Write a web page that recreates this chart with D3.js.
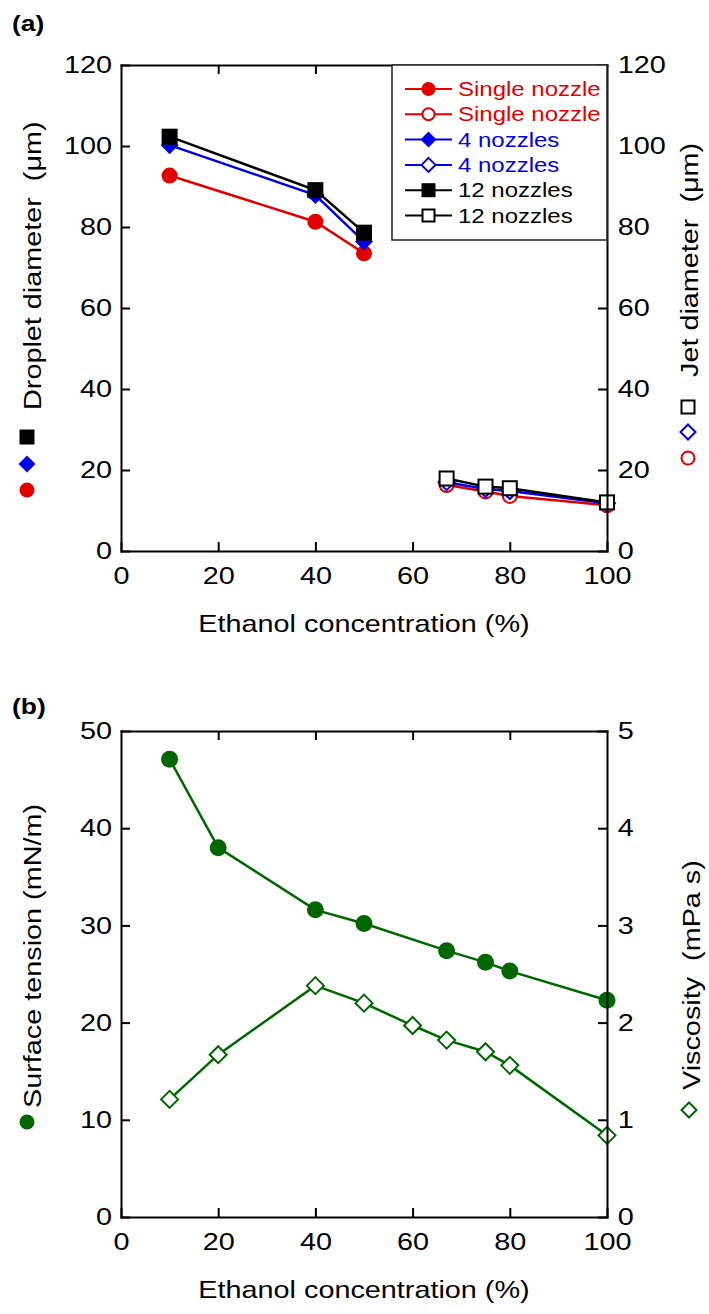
<!DOCTYPE html>
<html><head><meta charset="utf-8">
<script src="https://cdn.jsdelivr.net/npm/d3@7"></script>
<style>body{margin:0;background:#fff}svg{display:block}text{white-space:pre}</style>
</head><body>
<script>
// ---------- DATA ----------
const xTicks = [0, 20, 40, 60, 80, 100];
// Panel (a): droplet diameter (filled) at low ethanol
const dropX = [10, 40, 50];
const dropSingle = [92.7, 81.3, 73.5];
const drop4 = [100.2, 87.9, 76.4];
const drop12 = [102.3, 89.1, 78.6];
// Panel (a): jet diameter (open) at high ethanol
const jetX = [67, 75, 80, 100];
const jetSingle = [16.3, 14.7, 13.6, 11.3];
const jet4 = [17.0, 15.3, 14.8, 11.8];
const jet12 = [17.9, 15.9, 15.5, 12.0];
const aYTicks = [0, 20, 40, 60, 80, 100, 120];
const legendLabels = ["Single nozzle", "Single nozzle", "4 nozzles", "4 nozzles", "12 nozzles", "12 nozzles"];
// Panel (b)
const stX = [10, 20, 40, 50, 67, 75, 80, 100];
const surfaceTension = [47.1, 38.0, 31.6, 30.2, 27.4, 26.2, 25.3, 22.3];
const viscX = [10, 20, 40, 50, 60, 67, 75, 80, 100];
const viscosity = [1.21, 1.67, 2.38, 2.20, 1.97, 1.82, 1.70, 1.56, 0.84];
const bYTicksL = [0, 10, 20, 30, 40, 50];
const bYTicksR = [0, 1, 2, 3, 4, 5];

// ---------- STYLE ----------
const RED = "#e00000", BLUE = "#0000e6", BLACK = "#000", GREEN = "#006600";
const FONT = "'Liberation Sans', Arial, sans-serif";
const SX = 1.2;
const W = 709, H = 1314;
const L = 121, R = 607;

const svg = d3.select("body").append("svg").attr("width", W).attr("height", H)
  .style("font-family", FONT);

function txt(x, y, s, o = {}) {
  const t = svg.append("text")
    .attr("transform", `translate(${x},${y}) rotate(${o.rot || 0}) scale(${SX},1)`)
    .attr("font-size", o.size || 24)
    .attr("text-anchor", o.anchor || "start")
    .attr("fill", o.fill || "#000")
    .attr("font-weight", o.weight || "normal")
    .text(s);
  return t;
}

function marker(g, shape, filled, color, cx, cy, s) {
  const fill = filled ? color : "#fff";
  const sw = 2;
  if (shape === "circle") {
    g.append("circle").attr("cx", cx).attr("cy", cy).attr("r", filled ? s / 2 : s / 2 - 1)
      .attr("fill", fill).attr("stroke", color).attr("stroke-width", filled ? 0 : sw);
  } else if (shape === "square") {
    const a = filled ? s : s - 2;
    g.append("rect").attr("x", cx - a / 2).attr("y", cy - a / 2).attr("width", a).attr("height", a)
      .attr("fill", fill).attr("stroke", color).attr("stroke-width", filled ? 0 : sw);
  } else {
    const h = filled ? s / 2 + 1 : s / 2;
    g.append("path").attr("d", `M${cx},${cy - h}L${cx + h},${cy}L${cx},${cy + h}L${cx - h},${cy}Z`)
      .attr("fill", fill).attr("stroke", color).attr("stroke-width", filled ? 0 : sw);
  }
}

function frame(x, yL, yR, top, bottom, ticksL, ticksR) {
  const g = svg.append("g");
  const style = sel => {
    sel.selectAll("path.domain").attr("stroke", "#000").attr("stroke-width", 2);
    sel.selectAll(".tick line").attr("stroke", "#000").attr("stroke-width", 2);
    sel.selectAll(".tick text").attr("font-size", 24).attr("font-family", FONT)
      .attr("fill", "#000").attr("transform", `scale(${SX},1)`);
  };
  const fmt = d3.format("d");
  g.append("g").attr("transform", `translate(0,${bottom})`)
    .call(d3.axisBottom(x).tickValues(xTicks).tickFormat(fmt).tickSizeInner(-9).tickSizeOuter(0).tickPadding(16)).call(style);
  g.append("g").attr("transform", `translate(0,${top})`)
    .call(d3.axisTop(x).tickValues(xTicks.slice(1, -1)).tickSizeInner(-9).tickSizeOuter(0).tickFormat("")).call(style);
  g.append("g").attr("transform", `translate(${L},0)`)
    .call(d3.axisLeft(yL).tickValues(ticksL).tickFormat(fmt).tickSizeInner(-9).tickSizeOuter(0).tickPadding(7.5)).call(style);
  g.append("g").attr("transform", `translate(${R},0)`)
    .call(d3.axisRight(yR).tickValues(ticksR).tickFormat(fmt).tickSizeInner(-9).tickSizeOuter(0).tickPadding(9)).call(style);
  g.selectAll(".domain").attr("stroke-linecap", "square");
  return g;
}

function series(xs, ys, x, y, color, shape, filled, size) {
  const g = svg.append("g");
  const pts = xs.map((v, i) => [x(v), y(ys[i])]);
  g.append("path").attr("d", d3.line()(pts)).attr("fill", "none")
    .attr("stroke", color).attr("stroke-width", 2.5);
  pts.forEach(p => marker(g, shape, filled, color, p[0], p[1], size));
}

// ---------- PANEL (a) ----------
const aTop = 65, aBot = 551;
const xa = d3.scaleLinear().domain([0, 100]).range([L, R]);
const ya = d3.scaleLinear().domain([0, 120]).range([aBot, aTop]);

series(dropX, dropSingle, xa, ya, RED, "circle", true, 16);
series(dropX, drop4, xa, ya, BLUE, "diamond", true, 16);
series(dropX, drop12, xa, ya, BLACK, "square", true, 16);
series(jetX, jetSingle, xa, ya, RED, "circle", false, 16);
series(jetX, jet4, xa, ya, BLUE, "diamond", false, 16);
series(jetX, jet12, xa, ya, BLACK, "square", false, 16);

frame(xa, ya, ya, aTop, aBot, aYTicks, aYTicks);

// legend
const lg = svg.append("g");
lg.append("rect").attr("x", 392).attr("y", aTop).attr("width", R - 392).attr("height", 240 - aTop)
  .attr("fill", "#fff").attr("stroke", "#222").attr("stroke-width", 1.5);
const legColors = [RED, RED, BLUE, BLUE, BLACK, BLACK];
const legShapes = ["circle", "circle", "diamond", "diamond", "square", "square"];
legendLabels.forEach((lab, i) => {
  const cy = 89 + i * 25.3;
  lg.append("line").attr("x1", 405).attr("x2", 452).attr("y1", cy).attr("y2", cy)
    .attr("stroke", legColors[i]).attr("stroke-width", 2);
  marker(lg, legShapes[i], i % 2 === 0, legColors[i], 428.5, cy, 14);
  txt(458, cy + 7, lab, { size: 20, fill: legColors[i] });
});

// titles
txt(12, 31, "(a)", { size: 22, weight: "bold" });
txt(364, 632, "Ethanol concentration (%)", { anchor: "middle" });
txt(41, 410, "Droplet diameter  (\u03bcm)", { rot: -90 });
txt(698, 377, "Jet diameter  (\u03bcm)", { rot: -90 });
marker(svg, "square", true, BLACK, 27, 437, 15);
marker(svg, "diamond", true, BLUE, 27, 464, 15);
marker(svg, "circle", true, RED, 27, 490, 15);
marker(svg, "square", false, BLACK, 688, 407, 15);
marker(svg, "diamond", false, BLUE, 688, 432, 15);
marker(svg, "circle", false, RED, 688, 458, 15);

// ---------- PANEL (b) ----------
const bTop = 731, bBot = 1217;
const xb = d3.scaleLinear().domain([0, 100]).range([L, R]);
const ybL = d3.scaleLinear().domain([0, 50]).range([bBot, bTop]);
const ybR = d3.scaleLinear().domain([0, 5]).range([bBot, bTop]);

series(stX, surfaceTension, xb, ybL, GREEN, "circle", true, 17);
series(viscX, viscosity, xb, ybR, GREEN, "diamond", false, 17);

frame(xb, ybL, ybR, bTop, bBot, bYTicksL, bYTicksR);

txt(12, 714, "(b)", { size: 22, weight: "bold" });
txt(364, 1298, "Ethanol concentration (%)", { anchor: "middle" });
txt(41, 1108, "Surface tension (mN/m)", { rot: -90 });
txt(700, 1090, "Viscosity  (mPa s)", { rot: -90 });
marker(svg, "circle", true, GREEN, 27, 1122, 15);
marker(svg, "diamond", false, GREEN, 689, 1110, 15);
</script>
</body></html>
